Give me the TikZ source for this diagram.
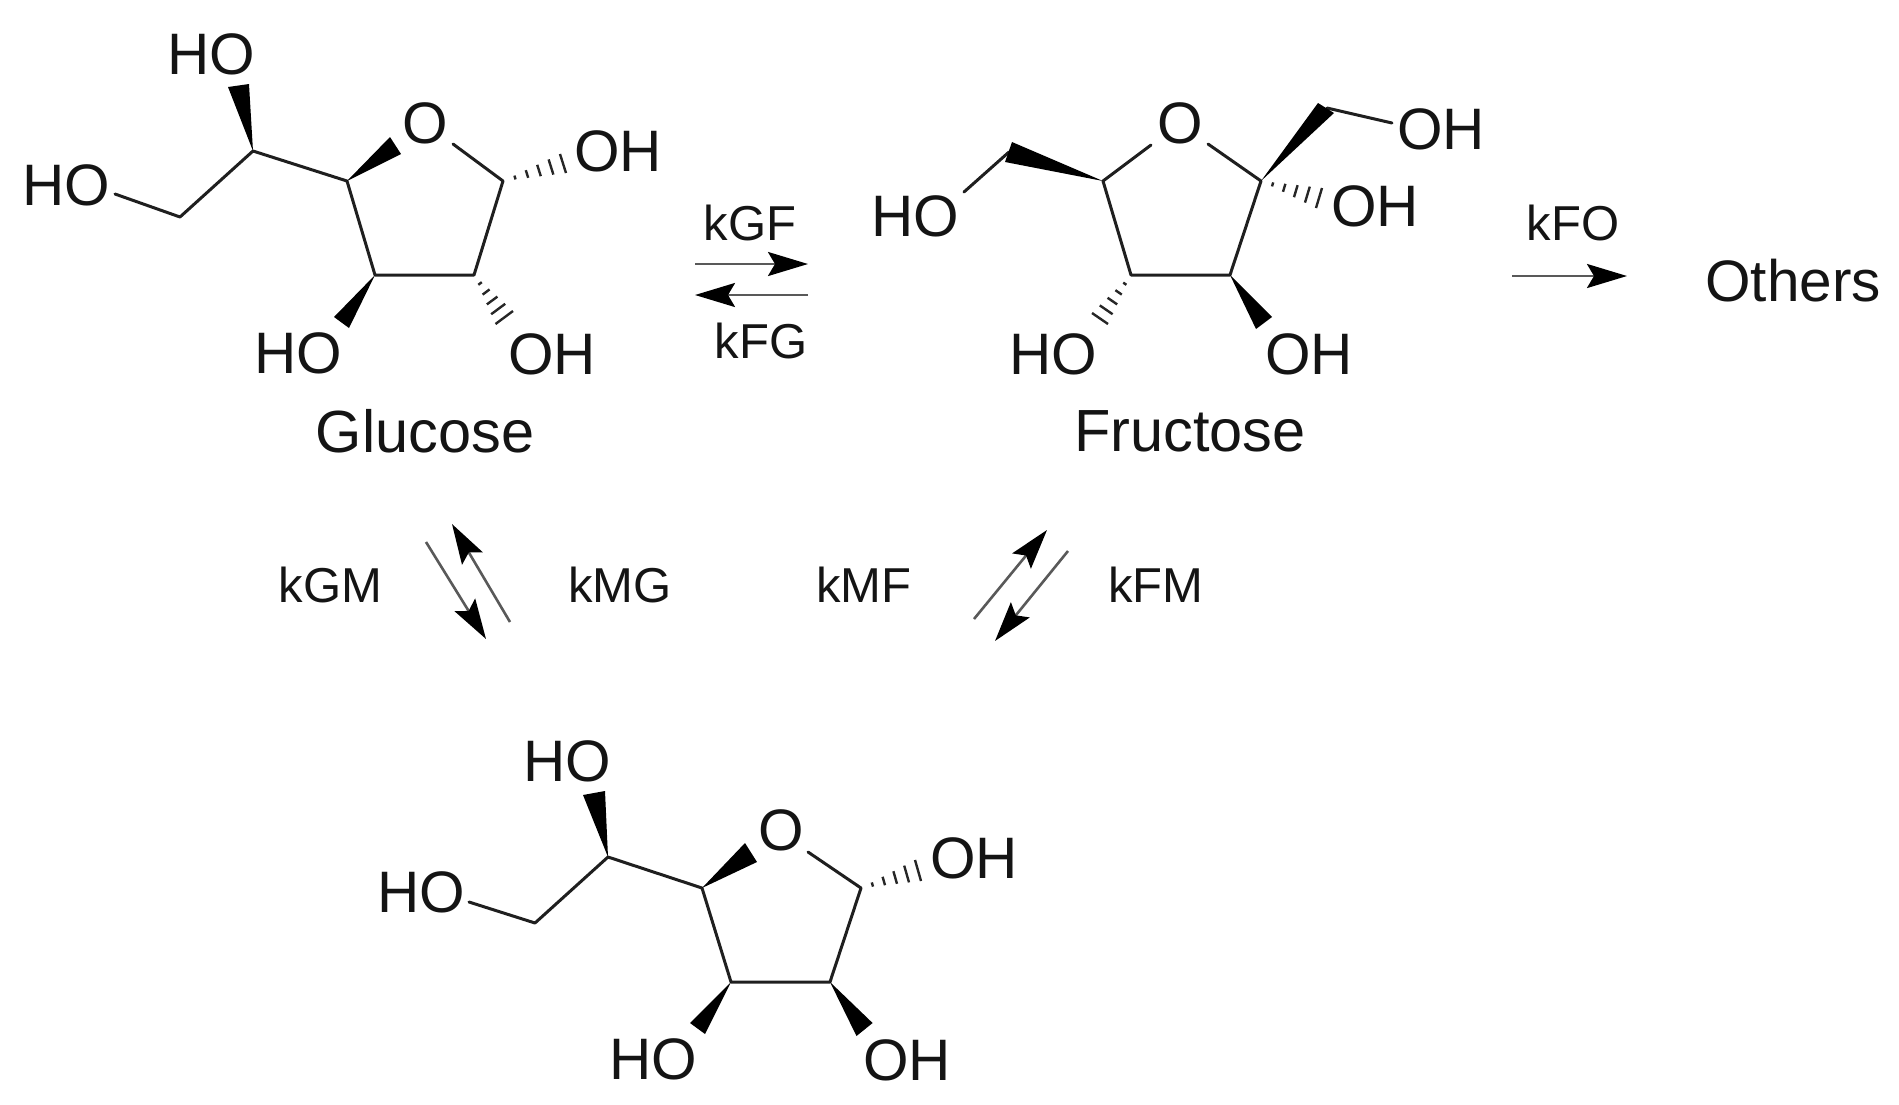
\documentclass[tikz,border=0pt]{standalone}
\usepackage{fontspec}
\setmainfont{Liberation Sans}
\usetikzlibrary{arrows.meta,calc}
\tikzset{
  bond/.style={line width=3pt,line cap=round,line join=round,color=black!88},
  hashline/.style={line width=2.4pt,color=black!85},
  rxn/.style={line width=2.6pt,color=black!65,-{Stealth[length=40pt,width=24pt,inset=7pt,color=black]}},
  atom/.style={inner sep=0pt,outer sep=0pt,text=black!92,font=\fontsize{58.5}{60}\selectfont},
  title/.style={inner sep=0pt,outer sep=0pt,text=black!92,font=\fontsize{59.5}{60}\selectfont},
  rate/.style={inner sep=0pt,outer sep=0pt,text=black!92,font=\fontsize{49}{50}\selectfont},
}
\newcommand{\wedgebond}[3]{\fill[black] (#1) -- (#2) -- (#3) -- cycle;}
\newcommand{\hashbond}[3]{\foreach \tt in {0.2,0.4,0.6,0.8,1.0}{\draw[hashline] ($(#1)!\tt!(#2)$) -- ($(#1)!\tt!(#3)$);}}
\begin{document}
\begin{tikzpicture}[x=1pt,y=-1pt]
\useasboundingbox (0,0) rectangle (1899,1104);
% ---------- Glucose ----------
\node[atom] (gHOa) at (211,54) {HO};
\node[atom] (gHOb) at (66,185) {HO};
\node[atom] (gO)   at (425,123.5) {O};
\node[atom] (gOHa) at (618,151) {OH};
\node[atom] (gHOc) at (298,353) {HO};
\node[atom] (gOHb) at (552,354) {OH};
\node[title] (glucose) at (425,431) {Glucose};
\coordinate (gC4) at (347,181);
\coordinate (gC1) at (503,181);
\coordinate (gC3) at (375,275);
\coordinate (gC2) at (474,275);
\coordinate (gC5) at (253,151);
\coordinate (gC6) at (180,217);
\coordinate (gE1) at (115,194);
\coordinate (gE2) at (453,144);
\draw[bond] (gE1) -- (gC6) -- (gC5) -- (gC4) -- (gC3) -- (gC2) -- (gC1) -- (gE2);
\wedgebond{gC5}{228,87}{249,84}
\wedgebond{gC4}{390,137}{401,154}
\wedgebond{gC3}{334,317}{349,328}
\hashbond{gC1}{560,154}{566,173}
\hashbond{gC2}{513,311}{495.5,324}
% ---------- Fructose ----------
\node[atom] (fHOa) at (915,216) {HO};
\node[atom] (fO)   at (1180,123) {O};
\node[atom] (fOHa) at (1441,129) {OH};
\node[atom] (fOHb) at (1375,206) {OH};
\node[atom] (fHOb) at (1053,354) {HO};
\node[atom] (fOHc) at (1309,354) {OH};
\node[title] (fructose) at (1190,431) {Fructose};
\coordinate (fC5) at (1103,181);
\coordinate (fC2) at (1261,181);
\coordinate (fC4) at (1131,275);
\coordinate (fC3) at (1230,275);
\coordinate (fE1) at (1151,145);
\coordinate (fE2) at (1208,144);
\coordinate (fC6) at (1009,152);
\coordinate (fC1) at (1327,108);
\coordinate (fE3) at (964,192);
\coordinate (fE4) at (1392,123);
\draw[bond] (fE1) -- (fC5) -- (fC4) -- (fC3) -- (fC2) -- (fE2);
\draw[bond] (fE3) -- (fC6);
\draw[bond] (fC1) -- (fE4);
\wedgebond{fC5}{1012,142}{1005,162}
\wedgebond{fC2}{1318,103}{1334,113}
\wedgebond{fC3}{1272,317}{1256,329}
\hashbond{fC2}{1322,188}{1316,208}
\hashbond{fC4}{1108,324}{1092,313}
% ---------- Bottom molecule ----------
\node[atom] (mHOa) at (567,761) {HO};
\node[atom] (mHOb) at (421,892) {HO};
\node[atom] (mO)   at (781,830) {O};
\node[atom] (mOHa) at (974,858) {OH};
\node[atom] (mHOc) at (653,1059) {HO};
\node[atom] (mOHb) at (907,1060) {OH};
\coordinate (mC4) at (702,888);
\coordinate (mC1) at (861,888);
\coordinate (mC3) at (731,982);
\coordinate (mC2) at (830,982);
\coordinate (mC5) at (608,857);
\coordinate (mC6) at (535,923);
\coordinate (mE1) at (469,902);
\coordinate (mE2) at (808,852);
\draw[bond] (mE1) -- (mC6) -- (mC5) -- (mC4) -- (mC3) -- (mC2) -- (mC1) -- (mE2);
\wedgebond{mC5}{583,795}{605,791}
\wedgebond{mC4}{745,843}{757,862}
\wedgebond{mC3}{690,1023}{705,1034}
\wedgebond{mC2}{856.5,1036}{872.6,1023}
\hashbond{mC1}{915,860}{921,881}
% ---------- Reaction arrows ----------
\node[rate] (kGF) at (750,223) {kGF};
\node[rate] (kFG) at (761,341) {kFG};
\node[rate] (kFO) at (1573,223) {kFO};
\node[atom] (others) at (1793,281) {Others};
\node[rate] (kGM) at (330.5,585) {kGM};
\node[rate] (kMG) at (620,585) {kMG};
\node[rate] (kMF) at (864,585) {kMF};
\node[rate] (kFM) at (1156,585) {kFM};
\coordinate (a1s) at (695,264); \coordinate (a1e) at (808,264);
\coordinate (a2s) at (808,295); \coordinate (a2e) at (695,295);
\coordinate (a3s) at (1512,276); \coordinate (a3e) at (1627,276);
\coordinate (a4s) at (426,542); \coordinate (a4e) at (486,639);
\coordinate (a5s) at (510,622); \coordinate (a5e) at (452,524);
\coordinate (a6s) at (974,619); \coordinate (a6e) at (1047,530);
\coordinate (a7s) at (1068,551); \coordinate (a7e) at (995,641);
\draw[rxn] (a1s) -- (a1e);
\draw[rxn] (a2s) -- (a2e);
\draw[rxn] (a3s) -- (a3e);
\draw[rxn] (a4s) -- (a4e);
\draw[rxn] (a5s) -- (a5e);
\draw[rxn] (a6s) -- (a6e);
\draw[rxn] (a7s) -- (a7e);
\end{tikzpicture}
\end{document}
